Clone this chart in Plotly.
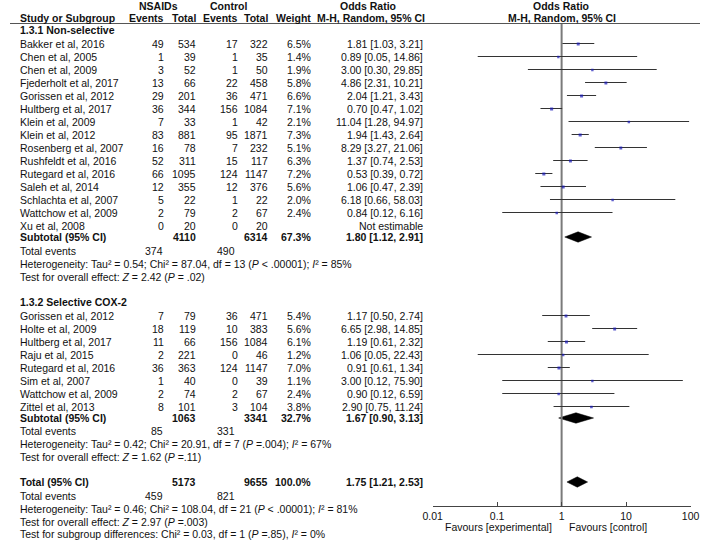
import plotly.graph_objects as go

W, H = 709, 540

# ---------------- data ----------------
g1_studies = ["Bakker et al, 2016", "Chen et al, 2005", "Chen et al, 2009", "Fjederholt et al, 2017",
              "Gorissen et al, 2012", "Hultberg et al, 2017", "Klein et al, 2009", "Klein et al, 2012",
              "Rosenberg et al, 2007", "Rushfeldt et al, 2016", "Rutegard et al, 2016", "Saleh et al, 2014",
              "Schlachta et al, 2007", "Wattchow et al, 2009", "Xu et al, 2008"]
g1_ev_n = [49, 1, 3, 13, 29, 36, 7, 83, 16, 52, 66, 12, 5, 2, 0]
g1_tot_n = [534, 39, 52, 66, 201, 344, 33, 881, 78, 311, 1095, 355, 22, 79, 20]
g1_ev_c = [17, 1, 1, 22, 36, 156, 1, 95, 7, 15, 124, 12, 1, 2, 0]
g1_tot_c = [322, 35, 50, 458, 471, 1084, 42, 1871, 232, 117, 1147, 376, 22, 67, 20]
g1_weight = [6.5, 1.4, 1.9, 5.8, 6.6, 7.1, 2.1, 7.3, 5.1, 6.3, 7.2, 5.6, 2.0, 2.4, None]
g1_or = [1.81, 0.89, 3.00, 4.86, 2.04, 0.70, 11.04, 1.94, 8.29, 1.37, 0.53, 1.06, 6.18, 0.84, None]
g1_lo = [1.03, 0.05, 0.30, 2.31, 1.21, 0.47, 1.28, 1.43, 3.27, 0.74, 0.39, 0.47, 0.66, 0.12, None]
g1_hi = [3.21, 14.86, 29.85, 10.21, 3.43, 1.02, 94.97, 2.64, 21.06, 2.53, 0.72, 2.39, 58.03, 6.16, None]

g2_studies = ["Gorissen et al, 2012", "Holte et al, 2009", "Hultberg et al, 2017", "Raju et al, 2015",
              "Rutegard et al, 2016", "Sim et al, 2007", "Wattchow et al, 2009", "Zittel et al, 2013"]
g2_ev_n = [7, 18, 11, 2, 36, 1, 2, 8]
g2_tot_n = [79, 119, 66, 221, 363, 40, 74, 101]
g2_ev_c = [36, 10, 156, 0, 124, 0, 2, 3]
g2_tot_c = [471, 383, 1084, 46, 1147, 39, 67, 104]
g2_weight = [5.4, 5.6, 6.1, 1.2, 7.0, 1.1, 2.4, 3.8]
g2_or = [1.17, 6.65, 1.19, 1.06, 0.91, 3.00, 0.90, 2.90]
g2_lo = [0.50, 2.98, 0.61, 0.05, 0.61, 0.12, 0.12, 0.75]
g2_hi = [2.74, 14.85, 2.32, 22.43, 1.34, 75.90, 6.59, 11.24]

# subtotal / total: [group1, group2, overall]
sum_tot_n = [4110, 1063, 5173]
sum_tot_c = [6314, 3341, 9655]
sum_weight = [67.3, 32.7, 100.0]
sum_or = [1.80, 1.67, 1.75]
sum_lo = [1.12, 0.90, 1.21]
sum_hi = [2.91, 3.13, 2.53]
sum_ev_n = [374, 85, 459]
sum_ev_c = [490, 331, 821]
het_text = [
    "Heterogeneity: Tau² = 0.54; Chi² = 87.04, df = 13 (<i>P</i> &lt; .00001); <i>I</i>² = 85%",
    "Heterogeneity: Tau² = 0.42; Chi² = 20.91, df = 7 (<i>P</i> =.004); <i>I</i>² = 67%",
    "Heterogeneity: Tau² = 0.46; Chi² = 108.04, df = 21 (<i>P</i> &lt; .00001); <i>I</i>² = 81%",
]
effect_text = [
    "Test for overall effect: <i>Z</i> = 2.42 (<i>P</i> = .02)",
    "Test for overall effect: <i>Z</i> = 1.62 (<i>P</i> =.11)",
    "Test for overall effect: <i>Z</i> = 2.97 (<i>P</i> =.003)",
]
subgroup_text = "Test for subgroup differences: Chi² = 0.03, df = 1 (<i>P</i> =.85), <i>I</i>² = 0%"

tick_vals = [0.01, 0.1, 1, 10, 100]
tick_text = ["0.01", "0.1", "1", "10", "100"]

# ---------------- layout constants (pixels) ----------------
FONT = "Liberation Sans"
FS = 10.5
TXT = "#111111"
X_STUDY = 8
X_EVN, X_TOTN, X_EVC, X_TOTC, X_WT, X_OR = 160, 193, 236, 267, 311, 426
X_TEV_N, X_TEV_C = 159, 233
AX_L, AX_R, AX_Y = 434.3, 699.3, 506

g1_y0, g2_y0, ROW = 43.5, 315.5, 13.0
g1_title_y, g2_title_y = 30, 302
sum_y = [237, 418, 482]
tev_y = [251, 431, 496]
het_y = [264, 444, 509]
eff_y = [277, 457, 522]
subgroup_y = 534

fig = go.Figure()
ann = []


def txt(x, y, s, anchor="left", bold=False, size=FS):
    if bold:
        s = "<b>" + s + "</b>"
    ann.append(dict(x=x / W, y=y, xref="paper", yref="y", text=s, showarrow=False,
                    xanchor=anchor, yanchor="middle", font=dict(family=FONT, size=size, color=TXT)))


# header
txt(152.5, 5.5, "NSAIDs", "center", True)
txt(225, 5.5, "Control", "center", True)
txt(367.5, 5.5, "Odds Ratio", "center", True)
txt(566.5, 5.5, "Odds Ratio", "center", True)
txt(X_STUDY, 17.5, "Study or Subgroup", "left", True)
txt(X_EVN, 17.5, "Events", "right", True)
txt(X_TOTN, 17.5, "Total", "right", True)
txt(X_EVC, 17.5, "Events", "right", True)
txt(X_TOTC, 17.5, "Total", "right", True)
txt(X_WT, 17.5, "Weight", "right", True)
txt(371, 17.5, "M-H, Random, 95% CI", "center", True)
txt(567, 17.5, "M-H, Random, 95% CI", "center", True)

groups = [
    ("1.3.1 Non-selective", g1_title_y, g1_y0, g1_studies, g1_ev_n, g1_tot_n, g1_ev_c, g1_tot_c,
     g1_weight, g1_or, g1_lo, g1_hi),
    ("1.3.2 Selective COX-2", g2_title_y, g2_y0, g2_studies, g2_ev_n, g2_tot_n, g2_ev_c, g2_tot_c,
     g2_weight, g2_or, g2_lo, g2_hi),
]

ci_x, ci_y, mk_x, mk_y, mk_s = [], [], [], [], []
for gi, (title, ty, y0, names, evn, totn, evc, totc, wt, orv, lo, hi) in enumerate(groups):
    txt(X_STUDY, ty, title, "left", True)
    for i, name in enumerate(names):
        y = y0 + ROW * i
        txt(X_STUDY, y, name)
        txt(X_EVN, y, str(evn[i]), "right")
        txt(X_TOTN, y, str(totn[i]), "right")
        txt(X_EVC, y, str(evc[i]), "right")
        txt(X_TOTC, y, str(totc[i]), "right")
        if orv[i] is None:
            txt(X_OR, y, "Not estimable", "right")
            continue
        txt(X_WT, y, f"{wt[i]:.1f}%", "right")
        txt(X_OR, y, f"{orv[i]:.2f} [{lo[i]:.2f}, {hi[i]:.2f}]", "right")
        ci_x += [lo[i], hi[i], None]
        ci_y += [y, y, None]
        mk_x.append(orv[i])
        mk_y.append(y + 0.5)
        mk_s.append(2.2 + 0.12 * wt[i])

# subtotals and total
sum_labels = ["Subtotal (95% CI)", "Subtotal (95% CI)", "Total (95% CI)"]
for k in range(3):
    y = sum_y[k]
    txt(X_STUDY, y, sum_labels[k], "left", True)
    txt(X_TOTN, y, str(sum_tot_n[k]), "right", True)
    txt(X_TOTC, y, str(sum_tot_c[k]), "right", True)
    txt(X_WT, y, f"{sum_weight[k]:.1f}%", "right", True)
    txt(X_OR, y, f"{sum_or[k]:.2f} [{sum_lo[k]:.2f}, {sum_hi[k]:.2f}]", "right", True)
    txt(X_STUDY, tev_y[k], "Total events")
    txt(X_TEV_N, tev_y[k], str(sum_ev_n[k]), "right")
    txt(X_TEV_C, tev_y[k], str(sum_ev_c[k]), "right")
    txt(X_STUDY, het_y[k], het_text[k])
    txt(X_STUDY, eff_y[k], effect_text[k])
    hh = 5.2
    fig.add_trace(go.Scatter(
        x=[sum_lo[k], sum_or[k], sum_hi[k], sum_or[k], sum_lo[k]],
        y=[y, y - hh, y, y + hh, y],
        mode="lines", fill="toself", fillcolor="#000000",
        line=dict(color="#000000", width=0.5), hoverinfo="skip", showlegend=False))

txt(X_STUDY, subgroup_y, subgroup_text)

# axis captions
txt(559, 527, "Favours [experimental]", "right")
txt(572, 527, "Favours [control]", "left")

# vertical line of no effect
fig.add_trace(go.Scatter(x=[1, 1], y=[24, AX_Y], mode="lines",
                         line=dict(color="#7a7a7a", width=2), hoverinfo="skip", showlegend=False))
# CI lines
fig.add_trace(go.Scatter(x=ci_x, y=ci_y, mode="lines", line=dict(color="#333333", width=1),
                         hoverinfo="skip", showlegend=False))
# point estimates
fig.add_trace(go.Scatter(x=mk_x, y=mk_y, mode="markers",
                         marker=dict(symbol="square", size=mk_s, color="#1a1ab8", line=dict(width=0)),
                         hoverinfo="skip", showlegend=False))

# header rule
shapes = [dict(type="line", xref="paper", yref="y", x0=0, x1=1, y0=23.5, y1=23.5,
               line=dict(color="#555555", width=1))]

fig.update_layout(
    width=W, height=H, margin=dict(l=0, r=0, t=0, b=0),
    paper_bgcolor="white", plot_bgcolor="white",
    annotations=ann, shapes=shapes, showlegend=False,
    xaxis=dict(type="log", range=[-2, 2], domain=[AX_L / W, AX_R / W], anchor="free",
               position=1 - AX_Y / H, showline=True, linecolor="#444444", linewidth=1,
               ticks="inside", ticklen=4, tickcolor="#444444", tickvals=tick_vals, ticktext=tick_text,
               tickfont=dict(family=FONT, size=FS, color=TXT), showgrid=False, zeroline=False),
    yaxis=dict(range=[H, 0], domain=[0, 1], visible=False, showgrid=False, zeroline=False),
)

fig.write_html("out.html", config={"displayModeBar": False},
               post_script="document.body.style.margin='0px';document.body.style.overflow='hidden';")
